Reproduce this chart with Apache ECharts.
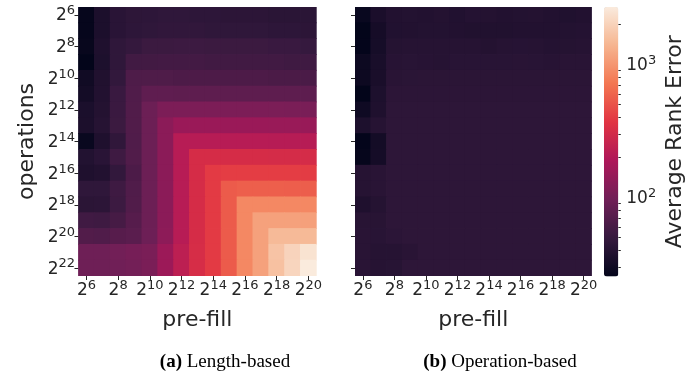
<!DOCTYPE html>
<html><head><meta charset="utf-8">
<script src="https://cdn.jsdelivr.net/npm/echarts@6/dist/echarts.min.js"></script>
<style>html,body{margin:0;padding:0;background:#fff}#c{width:700px;height:377px}</style>
</head><body><div id="c"></div>
<script>
// exponents of 2
const preFillExp = [6,7,8,9,10,11,12,13,14,15,16,17,18,19,20];
const opsExp = [6,7,8,9,10,11,12,13,14,15,16,17,18,19,20,21,22];

// Average rank error, rows = operations (2^6 .. 2^22), cols = pre-fill (2^6 .. 2^20)
const lengthBased = [
  [26.7, 35.9, 42.7, 44.5, 45, 46, 46, 45, 45, 44, 44, 44, 43, 43, 43],
  [26.7, 35.9, 42.7, 45, 46, 47, 47, 47, 46, 46, 46, 46, 45, 45, 44],
  [27.2, 36.9, 45.8, 48.8, 53, 53, 54, 54, 53, 53, 53, 53, 52, 52, 50],
  [25.4, 36.4, 45.8, 56.7, 57.3, 58, 58, 58, 57, 57, 57, 57, 57, 56, 56],
  [31, 38, 48, 66, 67, 67, 65, 65, 65, 65, 65, 65, 64, 64, 63],
  [32, 38.5, 52, 67.7, 80, 80, 79, 79, 79, 79, 79, 79, 79, 79, 78],
  [35.4, 39.5, 52.4, 68, 92, 110, 110, 110, 110, 110, 110, 110, 109, 108, 107],
  [35.9, 40.5, 53, 68, 92, 130, 153, 153, 153, 153, 153, 153, 152, 151, 150],
  [27.9, 36.9, 46.6, 67.7, 92, 130, 213, 213, 213, 213, 213, 213, 212, 211, 210],
  [38.9, 42.7, 55, 68, 92, 130, 213, 312, 312, 312, 312, 312, 310, 310, 308],
  [36.9, 38.5, 47.7, 64.6, 92, 130, 213, 312, 392, 405, 405, 405, 405, 402, 400],
  [45.8, 45.8, 55, 67.7, 92, 130, 213, 312, 392, 542, 565, 565, 565, 560, 558],
  [43.3, 44, 53.6, 68, 92, 130, 213, 312, 392, 542, 865, 865, 865, 860, 860],
  [56.2, 55, 60, 72, 92, 130, 213, 312, 392, 542, 865, 1130, 1130, 1130, 1120],
  [69, 67.7, 72.7, 75.4, 94, 132, 213, 312, 392, 542, 865, 1130, 1490, 1490, 1480],
  [94.4, 94.4, 98.5, 103, 108, 157, 229, 318, 392, 542, 865, 1130, 1660, 2020, 2430],
  [94.4, 94.4, 97, 100, 108, 157, 229, 318, 392, 542, 865, 1130, 1610, 2068, 2680]
];
const operationBased = [
  [27.9, 35, 38.7, 39, 38.7, 39.5, 38.3, 39.6, 39.5, 38.7, 39, 39.5, 38.7, 37.8, 38.7],
  [25.4, 32.8, 38.3, 38.7, 39, 39, 38.7, 37.9, 37.9, 37.9, 38.7, 38.7, 38.7, 39, 39.8],
  [26, 33.1, 40.1, 40.5, 40.5, 40.5, 40.5, 40.5, 39.5, 40.5, 41, 40.5, 39.8, 40.1, 40.5],
  [29.2, 34.1, 41.3, 42.1, 41.3, 40.5, 42.1, 42.1, 42.1, 42.1, 42.5, 42.1, 41.3, 42.5, 42.5],
  [29.2, 34.6, 42.5, 42.9, 43.3, 43.3, 43.3, 43.3, 43.3, 43.3, 43.3, 43.3, 43.3, 43.3, 43.3],
  [25.4, 36.4, 44.1, 44.1, 44.1, 44.1, 44.1, 44.1, 44.1, 44.1, 44.1, 44.1, 44.1, 44.1, 44.1],
  [30.2, 36.9, 44.5, 44.5, 44.5, 44.5, 44.5, 44.5, 44.5, 44.5, 44.5, 44.5, 44.5, 44.5, 44.5],
  [36.4, 40.5, 44.9, 44.9, 44.9, 44.9, 44.9, 44.9, 44.9, 44.9, 44.9, 44.9, 44.9, 44.9, 44.9],
  [26, 32.1, 44.9, 44.9, 44.9, 44.9, 44.9, 44.9, 44.9, 44.9, 44.9, 44.9, 44.9, 44.9, 44.9],
  [26.6, 32.6, 44.9, 44.9, 44.9, 44.9, 44.9, 44.9, 44.9, 44.9, 44.9, 44.9, 44.9, 44.9, 44.9],
  [40.5, 42.5, 44.9, 44.9, 44.9, 44.9, 44.9, 44.9, 44.9, 44.9, 44.9, 44.9, 44.9, 44.9, 44.9],
  [40.5, 42.5, 44.9, 44.9, 44.9, 44.9, 44.9, 44.9, 44.9, 44.9, 44.9, 44.9, 44.9, 44.9, 44.9],
  [36.9, 40.1, 44.9, 44.9, 44.9, 44.9, 44.9, 44.9, 44.9, 44.9, 44.9, 44.9, 44.9, 44.9, 44.9],
  [41.7, 41.7, 44.9, 44.9, 44.9, 44.9, 44.9, 44.9, 44.9, 44.9, 44.9, 44.9, 44.9, 44.9, 44.9],
  [42.5, 42.1, 43.5, 44.9, 44.9, 44.9, 44.9, 44.9, 44.9, 44.9, 44.9, 44.9, 44.9, 44.9, 44.9],
  [42.5, 40.5, 40.5, 42.5, 44.5, 44.5, 44.5, 44.5, 44.5, 44.5, 44.5, 44.5, 44.5, 44.5, 44.5],
  [42.5, 40.5, 41.5, 44.5, 44.5, 44.5, 44.5, 44.5, 44.5, 44.5, 44.5, 44.5, 44.5, 44.5, 44.5]
];

// colour bar (log scale)
const colorMin = 25.6, colorMax = 2686;
const colorbarMajor = [100, 1000];
const colorbarMinor = [30, 40, 50, 60, 70, 80, 90, 200, 300, 400, 500, 600, 700, 800, 900, 2000];
const rocket = ['#03051a', '#35193e', '#701f57', '#ad1759', '#e13342', '#f37651', '#f6b48f', '#faebdd'];
const captions = ['Length-based', 'Operation-based'];

const TXT = '#262626';
const rich = {
  b: {fontFamily: 'DejaVu Sans', fontSize: 17, lineHeight: 19, verticalAlign: 'bottom', color: TXT},
  s: {fontFamily: 'DejaVu Sans', fontSize: 13, lineHeight: 15, verticalAlign: 'bottom', padding: [0, 0, 7, 0], color: TXT}
};
const pow2 = v => '{b|2}{s|' + v + '}';
const nameStyle = {fontFamily: 'DejaVu Sans', fontSize: 22, color: TXT};
const toData = m => m.flatMap((row, r) => row.map((v, c) => [c, r, Math.log10(v)]));
const tick = {show: true, alignWithLabel: true, interval: 1, length: 4, lineStyle: {color: TXT, width: 1}};

const grids = [
  {left: 78.5, top: 7, width: 237.8, height: 269},
  {left: 355, top: 7, width: 236.5, height: 269},
  {left: 604, top: 7, width: 14.3, height: 269.5}
];

function catX(i) {
  return {gridIndex: i, type: 'category', data: preFillExp.map(String), axisLine: {show: false},
    axisTick: tick, axisLabel: {interval: 1, margin: 4.5, formatter: pow2, rich: rich},
    splitLine: {show: false}, name: 'pre-fill', nameLocation: 'middle', nameGap: 33, nameTextStyle: nameStyle};
}
function catY(i, labels) {
  const a = {gridIndex: i, type: 'category', data: opsExp.map(String), inverse: true, axisLine: {show: false},
    axisTick: tick, axisLabel: {show: labels, interval: 1, margin: 3.5, formatter: pow2, rich: rich},
    splitLine: {show: false}};
  if (labels) Object.assign(a, {name: 'operations', nameLocation: 'middle', nameGap: 40, nameTextStyle: nameStyle});
  return a;
}
// one rectangle per cell, slightly overlapping its neighbours to avoid hairline seams
function cell(params, api) {
  const p = api.coord([api.value(0), api.value(1)]);
  const s = api.size([1, 1]);
  return {type: 'rect', shape: {x: p[0] - s[0] / 2 - 0.4, y: p[1] - s[1] / 2 - 0.4, width: s[0] + 0.8, height: s[1] + 0.8},
    style: {fill: api.visual('color')}};
}

const logMin = Math.log10(colorMin), logMax = Math.log10(colorMax);

const option = {
  animation: false,
  textStyle: {fontFamily: 'DejaVu Sans'},
  grid: grids,
  xAxis: [catX(0), catX(1), {gridIndex: 2, type: 'value', show: false, min: 0, max: 1}],
  yAxis: [
    catY(0, true), catY(1, false),
    {gridIndex: 2, type: 'value', position: 'right', min: logMin, max: logMax,
      axisLine: {show: false}, splitLine: {show: false},
      axisTick: {show: true, length: 4, customValues: colorbarMajor.map(Math.log10), lineStyle: {color: TXT}},
      axisLabel: {margin: 8, customValues: colorbarMajor.map(Math.log10),
        formatter: v => '{b|10}{s|' + Math.round(v) + '}', rich: rich},
      name: 'Average Rank Error', nameLocation: 'middle', nameGap: 46, nameTextStyle: nameStyle},
    {gridIndex: 2, type: 'value', position: 'right', min: logMin, max: logMax,
      axisLine: {show: false}, splitLine: {show: false}, axisLabel: {show: false},
      axisTick: {show: true, length: 2.5, customValues: colorbarMinor.map(Math.log10), lineStyle: {color: TXT}}}
  ],
  visualMap: {
    type: 'continuous', min: logMin, max: logMax, seriesIndex: [0, 1], dimension: 2,
    calculable: false, orient: 'vertical', left: 604, top: 7, itemWidth: 14.3, itemHeight: 269.5,
    padding: 0, hoverLink: false, inRange: {color: rocket}
  },
  series: [
    {type: 'custom', xAxisIndex: 0, yAxisIndex: 0, data: toData(lengthBased), encode: {x: 0, y: 1}, renderItem: cell, clip: true, silent: true},
    {type: 'custom', xAxisIndex: 1, yAxisIndex: 1, data: toData(operationBased), encode: {x: 0, y: 1}, renderItem: cell, clip: true, silent: true},
    {type: 'scatter', xAxisIndex: 2, yAxisIndex: 2, data: [], silent: true}
  ],
  graphic: [
    {type: 'text', x: 225, y: 362, style: {text: '{a|(a)}{n| ' + captions[0] + '}', align: 'center', verticalAlign: 'middle',
      rich: {a: {fontFamily: 'Liberation Serif', fontSize: 19, fontWeight: 'bold', fill: '#000'}, n: {fontFamily: 'Liberation Serif', fontSize: 19, fill: '#000'}}}},
    {type: 'text', x: 500, y: 362, style: {text: '{a|(b)}{n| ' + captions[1] + '}', align: 'center', verticalAlign: 'middle',
      rich: {a: {fontFamily: 'Liberation Serif', fontSize: 19, fontWeight: 'bold', fill: '#000'}, n: {fontFamily: 'Liberation Serif', fontSize: 19, fill: '#000'}}}}
  ]
};
echarts.init(document.getElementById('c')).setOption(option);
</script></body></html>
